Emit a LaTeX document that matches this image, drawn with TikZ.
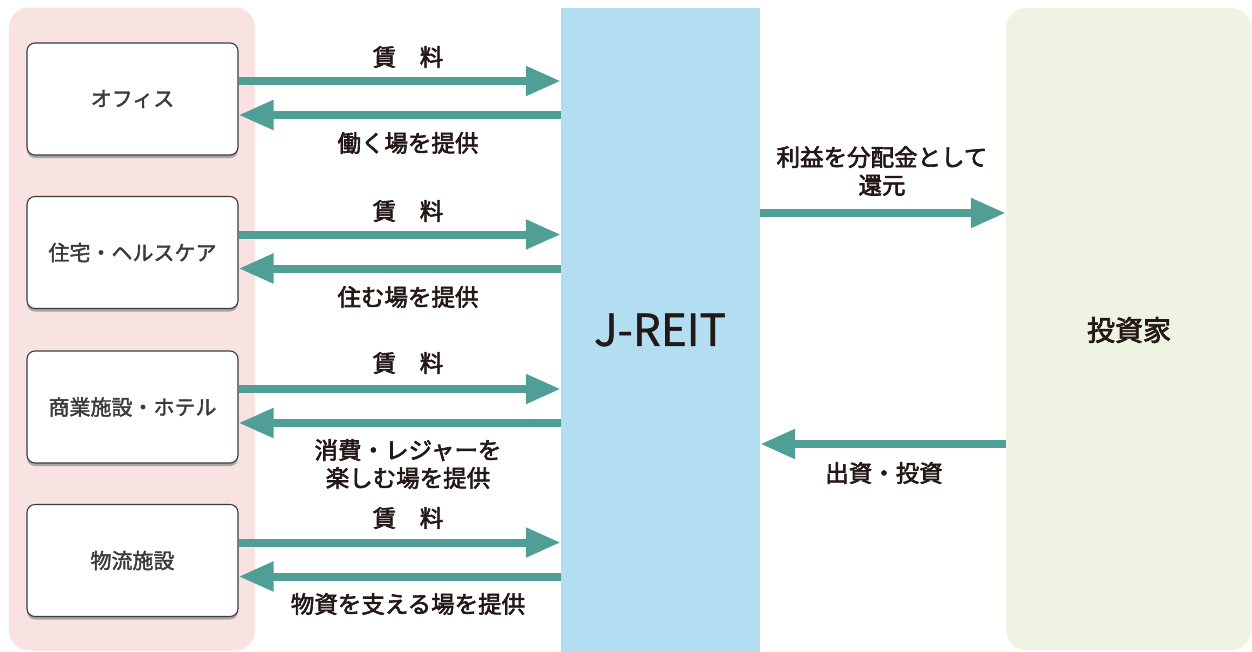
\documentclass[tikz,border=0pt]{standalone}
\usepackage{fontspec}
\setmainfont{Noto Sans CJK JP}
\newfontfamily\medfont{Noto Sans CJK JP}[FakeBold=2.6]
\newfontfamily\boxfont{Noto Sans CJK JP}[FakeBold=1.8]
\newfontfamily\jfont{Noto Sans CJK JP}[FakeBold=1.0]
\usetikzlibrary{arrows.meta,calc,shadows}
\definecolor{txt}{HTML}{231815}
\definecolor{boxtxt}{HTML}{3E3A39}
\definecolor{arr}{HTML}{4F9F97}
\definecolor{pinkbg}{HTML}{F8E2E2}
\definecolor{bluebg}{HTML}{B3DEF1}
\definecolor{greenbg}{HTML}{EEF4E1}
\definecolor{boxline}{HTML}{3C3A3A}
\tikzset{
  panel/.style={rounded corners=20pt, inner sep=0pt},
  usebox/.style={draw=boxline, line width=1.1pt, fill=white, rounded corners=8pt,
    minimum width=211pt, minimum height=112pt, inner sep=0pt, text=boxtxt,
    font=\boxfont\fontsize{21pt}{24pt}\selectfont,
    drop shadow={shadow xshift=0pt, shadow yshift=-3pt, fill=black!35, opacity=1}},
  flow/.style={draw=arr, line width=8pt, -{Triangle[length=35pt,width=28pt]}, color=arr},
  lbl/.style={text=txt, font=\medfont\fontsize{23.5pt}{28pt}\selectfont, align=center, inner sep=0pt},
}
\begin{document}
\begin{tikzpicture}[x=1pt,y=-1pt]
\useasboundingbox (0,0) rectangle (1252,651);
% panels
\node[panel, fill=pinkbg, minimum width=246pt, minimum height=643pt] (left) at (132,329) {};
\node[panel, fill=greenbg, minimum width=245pt, minimum height=642pt] (right) at (1128.5,329) {};
\node[fill=bluebg, minimum width=199pt, minimum height=644pt, inner sep=0pt] (jreit) at (660.5,329.5) {};
\node[text=txt, font=\jfont\fontsize{44pt}{48pt}\selectfont] (jtxt) at (660,330) {J-REIT};
\node[text=txt, font=\medfont\fontsize{28pt}{30pt}\selectfont] (inv) at (1129,330) {投資家};
% boxes
\node[usebox] (b1) at (132.5,99) {オフィス};
\node[usebox] (b2) at (132.5,252.5) {住宅・ヘルスケア};
\node[usebox] (b3) at (132.5,407) {商業施設・ホテル};
\node[usebox] (b4) at (132.5,560.5) {物流施設};
% arrows
\foreach \b in {b1,b2,b3,b4}{
  \draw[flow] ([yshift=18pt]\b.east) -- ([yshift=18pt]\b.east -| jreit.west);
  \draw[flow] ([yshift=-16pt]\b.east -| jreit.west) -- ([yshift=-16pt]\b.east);
}
% labels
\node[lbl] (l1a) at (408,57) {賃　料};
\node[lbl] (l1b) at (408,143) {働く場を提供};
\node[lbl] (l2a) at (408,211) {賃　料};
\node[lbl] (l2b) at (408,297) {住む場を提供};
\node[lbl] (l3a) at (408,363) {賃　料};
\node[lbl] (l3b) at (408,464) {消費・レジャーを\\楽しむ場を提供};
\node[lbl] (l4a) at (408,518) {賃　料};
\node[lbl] (l4b) at (408,604) {物資を支える場を提供};
% right side
\coordinate (r1) at (760,213);
\coordinate (r2) at (1006,444);
\draw[flow] (r1) -- (r1 -| right.west);
\draw[flow] (r2) -- (r2 -| jreit.east);
\node[lbl] (rl1) at (882,171) {利益を分配金として\\還元};
\node[lbl] (rl2) at (884,473) {出資・投資};
\end{tikzpicture}
\end{document}
